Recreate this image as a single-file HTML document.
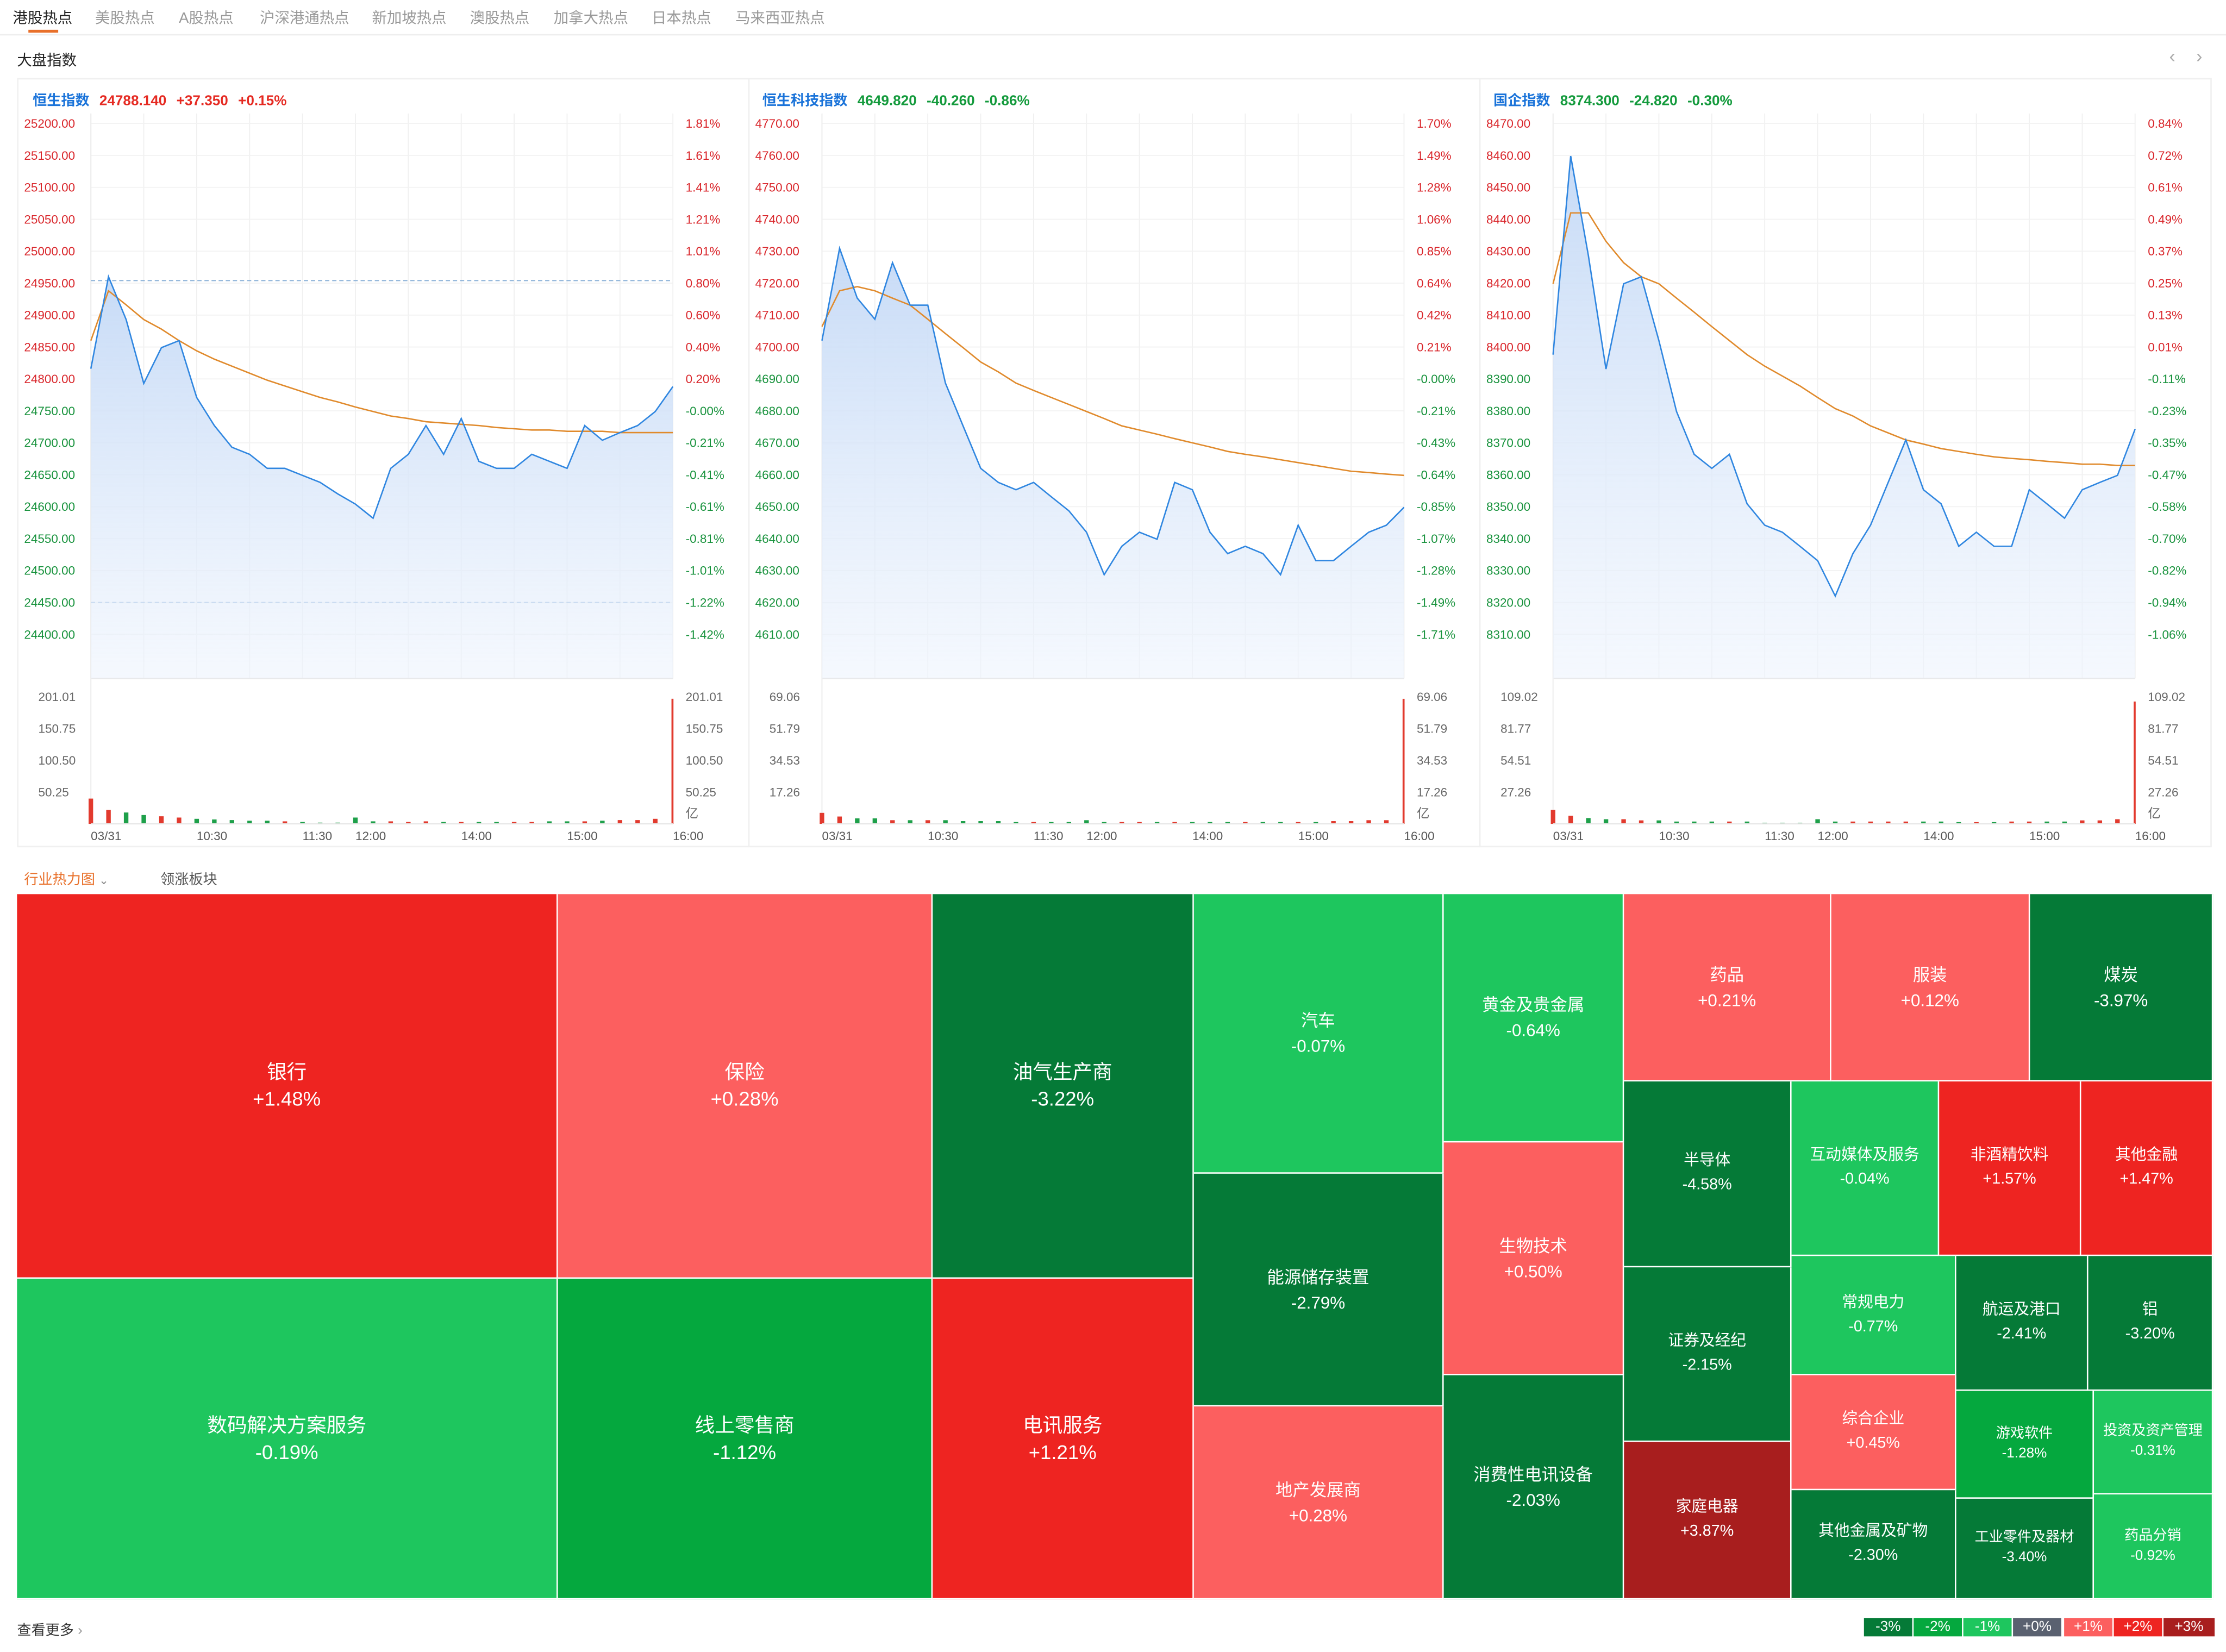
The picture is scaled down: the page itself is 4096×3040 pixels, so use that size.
<!DOCTYPE html>
<html><head><meta charset="utf-8">
<style>
html,body{margin:0;padding:0;width:4096px;height:3040px;overflow:hidden;background:#fff;}
#root{position:absolute;left:0;top:0;width:1568px;height:1164px;transform:scale(2.6122,2.6117);transform-origin:0 0;font-family:"Liberation Sans","Noto Sans CJK SC",sans-serif;color:#333;}
.abs{position:absolute;white-space:nowrap;}
.tab{position:absolute;top:5px;font-size:10.5px;color:#999;}
.panel{position:absolute;top:55px;height:542px;border:1px solid #f0f0f0;box-sizing:border-box;}
.hdr{position:absolute;top:62px;font-size:10px;font-weight:bold;}
.hdr span{margin-right:7px;}
.cell{position:absolute;box-sizing:border-box;border-right:1px solid #fff;border-bottom:1px solid #fff;color:#fff;display:flex;flex-direction:column;align-items:center;justify-content:center;text-align:center;font-size:12px;line-height:18px;}
.cell.big{font-size:14px;line-height:19px;}
.cell.sm{font-size:11px;line-height:17px;}
.cell.xs{font-size:10px;line-height:14px;}
.leg{position:absolute;top:1140px;height:13px;width:34px;color:#fff;font-size:10px;line-height:13px;text-align:center;}
</style></head>
<body>
<div id="root">
  <div class="tab" style="left:9px;color:#222;">港股热点</div>
  <div class="tab" style="left:67px">美股热点</div>
  <div class="tab" style="left:126px">A股热点</div>
  <div class="tab" style="left:183px">沪深港通热点</div>
  <div class="tab" style="left:262px">新加坡热点</div>
  <div class="tab" style="left:331px">澳股热点</div>
  <div class="tab" style="left:390px">加拿大热点</div>
  <div class="tab" style="left:459px">日本热点</div>
  <div class="tab" style="left:518px">马来西亚热点</div>
  <div class="abs" style="left:20px;top:21px;width:21px;height:2px;background:#e8702a"></div>
  <div class="abs" style="left:0;top:24px;width:1568px;height:1px;background:#eee"></div>
  <div class="abs" style="left:12px;top:35px;font-size:10.5px;color:#222">大盘指数</div>
  <div class="abs" style="left:1528px;top:32px;font-size:13px;color:#aaa">‹</div>
  <div class="abs" style="left:1547px;top:32px;font-size:13px;color:#aaa">›</div>

  <div class="panel" style="left:12px;width:516px"></div>
  <div class="panel" style="left:527px;width:516px"></div>
  <div class="panel" style="left:1042px;width:516px"></div>

  <div class="hdr" style="left:23px"><span style="color:#1a73d9">恒生指数</span><span style="color:#e52a22">24788.140</span><span style="color:#e52a22">+37.350</span><span style="color:#e52a22">+0.15%</span></div>
  <div class="hdr" style="left:537px"><span style="color:#1a73d9">恒生科技指数</span><span style="color:#139a3c">4649.820</span><span style="color:#139a3c">-40.260</span><span style="color:#139a3c">-0.86%</span></div>
  <div class="hdr" style="left:1052px"><span style="color:#1a73d9">国企指数</span><span style="color:#139a3c">8374.300</span><span style="color:#139a3c">-24.820</span><span style="color:#139a3c">-0.30%</span></div>

  <svg id="charts" class="abs" style="left:0;top:0" width="1568" height="610"></svg>

  <div class="abs" style="left:17px;top:611px;font-size:10px;color:#e8702a">行业热力图 <span style="font-size:8px;color:#888">⌄</span></div>
  <div class="abs" style="left:113px;top:611px;font-size:10px;color:#555">领涨板块</div>

  <div id="treemap" class="abs" style="left:12px;top:630px;width:1547px;height:497px">
    <div class="cell big" data-val="1.48" style="left:0;top:0;width:381px;height:271px"><div>银行</div><div>+1.48%</div></div>
    <div class="cell big" data-val="-0.19" style="left:0;top:271px;width:381px;height:226px"><div>数码解决方案服务</div><div>-0.19%</div></div>
    <div class="cell big" data-val="0.28" style="left:381px;top:0;width:264px;height:271px"><div>保险</div><div>+0.28%</div></div>
    <div class="cell big" data-val="-1.12" style="left:381px;top:271px;width:264px;height:226px"><div>线上零售商</div><div>-1.12%</div></div>
    <div class="cell big" data-val="-3.22" style="left:645px;top:0;width:184px;height:271px"><div>油气生产商</div><div>-3.22%</div></div>
    <div class="cell big" data-val="1.21" style="left:645px;top:271px;width:184px;height:226px"><div>电讯服务</div><div>+1.21%</div></div>
    <div class="cell" data-val="-0.07" style="left:829px;top:0;width:176px;height:197px"><div>汽车</div><div>-0.07%</div></div>
    <div class="cell" data-val="-2.79" style="left:829px;top:197px;width:176px;height:164px"><div>能源储存装置</div><div>-2.79%</div></div>
    <div class="cell" data-val="0.28" style="left:829px;top:361px;width:176px;height:136px"><div>地产发展商</div><div>+0.28%</div></div>
    <div class="cell" data-val="-0.64" style="left:1005px;top:0;width:127px;height:175px"><div>黄金及贵金属</div><div>-0.64%</div></div>
    <div class="cell" data-val="0.50" style="left:1005px;top:175px;width:127px;height:164px"><div>生物技术</div><div>+0.50%</div></div>
    <div class="cell" data-val="-2.03" style="left:1005px;top:339px;width:127px;height:158px"><div>消费性电讯设备</div><div>-2.03%</div></div>
    <div class="cell" data-val="0.21" style="left:1132px;top:0;width:146px;height:132px"><div>药品</div><div>+0.21%</div></div>
    <div class="cell" data-val="0.12" style="left:1278px;top:0;width:140px;height:132px"><div>服装</div><div>+0.12%</div></div>
    <div class="cell" data-val="-3.97" style="left:1418px;top:0;width:129px;height:132px"><div>煤炭</div><div>-3.97%</div></div>
    <div class="cell sm" data-val="-4.58" style="left:1132px;top:132px;width:118px;height:131px"><div>半导体</div><div>-4.58%</div></div>
    <div class="cell sm" data-val="-0.04" style="left:1250px;top:132px;width:104px;height:123px"><div>互动媒体及服务</div><div>-0.04%</div></div>
    <div class="cell sm" data-val="1.57" style="left:1354px;top:132px;width:100px;height:123px"><div>非酒精饮料</div><div>+1.57%</div></div>
    <div class="cell sm" data-val="1.47" style="left:1454px;top:132px;width:93px;height:123px"><div>其他金融</div><div>+1.47%</div></div>
    <div class="cell sm" data-val="-2.15" style="left:1132px;top:263px;width:118px;height:123px"><div>证券及经纪</div><div>-2.15%</div></div>
    <div class="cell sm" data-val="3.87" style="left:1132px;top:386px;width:118px;height:111px"><div>家庭电器</div><div>+3.87%</div></div>
    <div class="cell sm" data-val="-0.77" style="left:1250px;top:255px;width:116px;height:84px"><div>常规电力</div><div>-0.77%</div></div>
    <div class="cell sm" data-val="-2.41" style="left:1366px;top:255px;width:93px;height:95px"><div>航运及港口</div><div>-2.41%</div></div>
    <div class="cell sm" data-val="-3.20" style="left:1459px;top:255px;width:88px;height:95px"><div>铝</div><div>-3.20%</div></div>
    <div class="cell sm" data-val="0.45" style="left:1250px;top:339px;width:116px;height:81px"><div>综合企业</div><div>+0.45%</div></div>
    <div class="cell sm" data-val="-2.30" style="left:1250px;top:420px;width:116px;height:77px"><div>其他金属及矿物</div><div>-2.30%</div></div>
    <div class="cell xs" data-val="-1.28" style="left:1366px;top:350px;width:97px;height:76px"><div>游戏软件</div><div>-1.28%</div></div>
    <div class="cell xs" data-val="-0.31" style="left:1463px;top:350px;width:84px;height:73px"><div>投资及资产管理</div><div>-0.31%</div></div>
    <div class="cell xs" data-val="-3.40" style="left:1366px;top:426px;width:97px;height:71px"><div>工业零件及器材</div><div>-3.40%</div></div>
    <div class="cell xs" data-val="-0.92" style="left:1463px;top:423px;width:84px;height:74px"><div>药品分销</div><div>-0.92%</div></div>
  </div>

  <div class="abs" style="left:12px;top:1140px;font-size:10px;color:#333">查看更多 <span style="color:#999">›</span></div>
  <div class="leg" style="left:1313px;background:#057a37">-3%</div>
  <div class="leg" style="left:1348px;background:#05a83e">-2%</div>
  <div class="leg" style="left:1383px;background:#1ec65e">-1%</div>
  <div class="leg" style="left:1418px;background:#5a6170">+0%</div>
  <div class="leg" style="left:1454px;background:#fc5f5f">+1%</div>
  <div class="leg" style="left:1489px;background:#ee2421">+2%</div>
  <div class="leg" style="left:1524px;width:36px;background:#a81e1e">+3%</div>
</div>
<script>
// minutes since 09:30 in trading time (10-minute samples)
const sampleMinutes = [0,10,20,30,40,50,60,70,80,90,100,110,120,130,140,150,160,170,180,190,200,210,220,230,240,250,260,270,280,290,300,310,320,330];
const timeTickLabels = ["03/31","10:30","11:30","12:00","14:00","15:00","16:00"];
const timeTickMinutes = [0,60,120,150,210,270,330];

const hsiPrice = [24816,24960,24893,24793,24849,24860,24771,24727,24693,24682,24660,24660,24649,24638,24620,24604,24582,24660,24682,24727,24682,24738,24671,24660,24660,24682,24671,24660,24727,24704,24716,24727,24749,24788];
const hsiAvg = [24860,24938,24916,24893,24878,24860,24844,24831,24820,24809,24798,24789,24780,24771,24764,24756,24749,24742,24738,24733,24731,24729,24727,24724,24722,24720,24720,24718,24718,24718,24716,24716,24716,24716];
const hsiVol = [40,22,18,14,12,10,8,7,6,5,5,4,3,2,2,10,4,4,3,4,3,3,3,3,3,3,4,4,4,5,6,6,8,198];
const hsiPriceTicks = ["25200.00","25150.00","25100.00","25050.00","25000.00","24950.00","24900.00","24850.00","24800.00","24750.00","24700.00","24650.00","24600.00","24550.00","24500.00","24450.00","24400.00"];
const hsiPctTicks = ["1.81%","1.61%","1.41%","1.21%","1.01%","0.80%","0.60%","0.40%","0.20%","-0.00%","-0.21%","-0.41%","-0.61%","-0.81%","-1.01%","-1.22%","-1.42%"];
const hsiVolTicks = ["201.01","150.75","100.50","50.25"];
const hsiMarkLines = [24954, 24450];

const techPrice = [4702.0,4730.9,4715.3,4708.7,4726.4,4713.1,4713.1,4688.7,4675.3,4662.0,4657.6,4655.3,4657.6,4653.1,4648.7,4642.0,4628.7,4637.6,4642.0,4639.8,4657.6,4655.3,4642.0,4635.3,4637.6,4635.3,4628.7,4644.2,4633.1,4633.1,4637.6,4642.0,4644.2,4649.8];
const techAvg = [4706.4,4717.6,4718.9,4717.6,4715.3,4713.1,4708.7,4704.2,4699.8,4695.3,4692.2,4688.7,4686.4,4684.2,4682.0,4679.8,4677.6,4675.3,4674.0,4672.7,4671.3,4670.0,4668.7,4667.3,4666.4,4665.6,4664.7,4663.8,4662.9,4662.0,4661.1,4660.7,4660.2,4659.8];
const techVol = [6,4,3,3,2,2,2,2,1.5,1.5,1.5,1,1,1,1,2,1,1,1,1,1,1,1,1,1,1,1,1,1,1.5,1.5,2,2,68];
const techPriceTicks = ["4770.00","4760.00","4750.00","4740.00","4730.00","4720.00","4710.00","4700.00","4690.00","4680.00","4670.00","4660.00","4650.00","4640.00","4630.00","4620.00","4610.00"];
const techPctTicks = ["1.70%","1.49%","1.28%","1.06%","0.85%","0.64%","0.42%","0.21%","-0.00%","-0.21%","-0.43%","-0.64%","-0.85%","-1.07%","-1.28%","-1.49%","-1.71%"];
const techVolTicks = ["69.06","51.79","34.53","17.26"];

const hsceiPrice = [8397.6,8459.8,8428.7,8393.1,8419.8,8422.0,8402.0,8379.8,8366.4,8362.0,8366.4,8350.9,8344.2,8342.0,8337.6,8333.1,8322.0,8335.3,8344.2,8357.6,8370.9,8355.3,8350.9,8337.6,8342.0,8337.6,8337.6,8355.3,8350.9,8346.4,8355.3,8357.6,8359.8,8374.3];
const hsceiAvg = [8419.8,8442.0,8442.0,8433.1,8426.4,8422.0,8419.8,8415.3,8410.9,8406.4,8402.0,8397.6,8394.0,8390.9,8387.8,8384.2,8380.7,8378.4,8375.3,8373.1,8370.9,8369.6,8368.2,8367.3,8366.4,8365.6,8365.1,8364.7,8364.2,8363.8,8363.3,8363.3,8362.9,8362.9];
const hsceiVol = [12,7,5,4,4,3,3,2,2,2,2,2,1,1,1,4,2,2,2,2,2,2,2,1.5,1.5,1.5,2,2,2,2,3,3,4,105];
const hsceiPriceTicks = ["8470.00","8460.00","8450.00","8440.00","8430.00","8420.00","8410.00","8400.00","8390.00","8380.00","8370.00","8360.00","8350.00","8340.00","8330.00","8320.00","8310.00"];
const hsceiPctTicks = ["0.84%","0.72%","0.61%","0.49%","0.37%","0.25%","0.13%","0.01%","-0.11%","-0.23%","-0.35%","-0.47%","-0.58%","-0.70%","-0.82%","-0.94%","-1.06%"];
const hsceiVolTicks = ["109.02","81.77","54.51","27.26"];

const NS = "http://www.w3.org/2000/svg";
const svg = document.getElementById('charts');
function mk(tag, attrs, parent){
  const e = document.createElementNS(NS, tag);
  for (const k in attrs) e.setAttribute(k, attrs[k]);
  (parent||svg).appendChild(e);
  return e;
}
const defs = mk('defs', {});
const grad = mk('linearGradient', {id:'areaGrad', x1:0, y1:0, x2:0, y2:1}, defs);
mk('stop', {offset:'0', 'stop-color':'#c4d9f6', 'stop-opacity':'0.95'}, grad);
mk('stop', {offset:'1', 'stop-color':'#eef4fd', 'stop-opacity':'0.6'}, grad);

function drawChart(cfg){
  const x0 = cfg.x0, x1 = x0 + 410, yTop = 87, yBot = 447, areaBot = 478, volBase = 580.5, volTop = 491;
  const pMax = parseFloat(cfg.priceTicks[0]), pMin = parseFloat(cfg.priceTicks[cfg.priceTicks.length-1]);
  const xs = m => x0 + m * (x1 - x0) / 330;
  const ys = p => yTop + (pMax - p) / (pMax - pMin) * (yBot - yTop);
  const vMax = parseFloat(cfg.volTicks[0]);
  const vy = v => volBase - v / vMax * (volBase - volTop);
  const g = mk('g', {});
  
  
  // grid
  for (let i = 0; i <= 11; i++) {
    const x = x0 + i * 410 / 11;
    const l = mk('line', {x1:x, x2:x, y1:80, y2:areaBot, stroke:'#f0f0f0', 'stroke-width':0.7}, g);
    
    
  }
  cfg.priceTicks.forEach((t, i) => {
    const y = ys(parseFloat(t));
    const l = mk('line', {x1:x0, x2:x1, y1:y, y2:y, stroke:'#f2f2f2', 'stroke-width':0.7}, g);
    
    
    const up = parseFloat(t) >= cfg.prevClose;
    const col = up ? '#d9262b' : '#17923c';
    const lt = mk('text', {x:x0 - 47, y:y + 3, 'font-size':8.6, fill:col}, g);
    lt.textContent = t;
    
    
    const rt = mk('text', {x:x1 + 9, y:y + 3, 'font-size':8.6, fill:col}, g);
    rt.textContent = cfg.pctTicks[i];
    
    
  });
  const sep = mk('line', {x1:x0, x2:x1, y1:areaBot, y2:areaBot, stroke:'#e6e6e6', 'stroke-width':1}, g);
  
  
  const lax = mk('line', {x1:x0, x2:x0, y1:80, y2:volBase, stroke:'#eee', 'stroke-width':0.8}, g);
  
  
  if (cfg.markLines) cfg.markLines.forEach(p => {
    const y = ys(p);
    const ml = mk('line', {x1:x0, x2:x1, y1:y, y2:y, stroke:'#8fb4d9', 'stroke-width':0.8, 'stroke-dasharray':'3,2'}, g);
    
    
  });
  // area + line
  let d = '';
  cfg.price.forEach((p, i) => { d += (i ? 'L' : 'M') + xs(sampleMinutes[i]).toFixed(2) + ',' + ys(p).toFixed(2); });
  const area = mk('path', {d: d + 'L' + xs(sampleMinutes[cfg.price.length-1]) + ',' + areaBot + 'L' + x0 + ',' + areaBot + 'Z', fill:'url(#areaGrad)'}, g);
  
  
  let da = '';
  cfg.avg.forEach((p, i) => { da += (i ? 'L' : 'M') + xs(sampleMinutes[i]).toFixed(2) + ',' + ys(p).toFixed(2); });
  const avgL = mk('path', {d:da, fill:'none', stroke:'#e08a2c', 'stroke-width':1}, g);
  
  
  const line = mk('path', {d:d, fill:'none', stroke:'#2f86e0', 'stroke-width':1}, g);
  
  
  // volume
  cfg.volTicks.forEach((t, i) => {
    const y = vy(parseFloat(t));
    const a = mk('text', {x:x0 - 37, y:y + 3, 'font-size':8.6, fill:'#666'}, g);
    a.textContent = t;
    
    
    const b = mk('text', {x:x1 + 9, y:y + 3, 'font-size':8.6, fill:'#666'}, g);
    b.textContent = t;
    
    
  });
  const unit = mk('text', {x:x1 + 9, y:576, 'font-size':9, fill:'#666'}, g);
  unit.textContent = '亿';
  
  
  cfg.vol.forEach((v, i) => {
    const up = i === 0 ? true : cfg.price[i] >= cfg.price[i-1];
    const x = xs(sampleMinutes[i]);
    const y = vy(v);
    const bar = mk('rect', {x: x - (i === cfg.vol.length-1 ? 1 : 1.6), y: y, width: i === cfg.vol.length-1 ? 1.4 : 3.2, height: volBase - y, fill: up ? '#e23a2e' : '#1ea04a'}, g);
    
    
  });
  const vb = mk('line', {x1:x0, x2:x1, y1:volBase, y2:volBase, stroke:'#e6e6e6', 'stroke-width':0.8}, g);
  
  
  timeTickLabels.forEach((t, i) => {
    const tx = mk('text', {x: xs(timeTickMinutes[i]), y:592, 'font-size':8.6, fill:'#555'}, g);
    tx.textContent = t;
    
    
  });
}
drawChart({name:'hsi', x0:64, price:hsiPrice, avg:hsiAvg, vol:hsiVol, priceTicks:hsiPriceTicks, pctTicks:hsiPctTicks, volTicks:hsiVolTicks, prevClose:24750.79, markLines:hsiMarkLines});
drawChart({name:'hstech', x0:579, price:techPrice, avg:techAvg, vol:techVol, priceTicks:techPriceTicks, pctTicks:techPctTicks, volTicks:techVolTicks, prevClose:4690.08});
drawChart({name:'hscei', x0:1094, price:hsceiPrice, avg:hsceiAvg, vol:hsceiVol, priceTicks:hsceiPriceTicks, pctTicks:hsceiPctTicks, volTicks:hsceiVolTicks, prevClose:8399.12});

// treemap colours from change values
function heatColor(v){
  if (v >= 3) return '#a81e1e';
  if (v >= 1) return '#ee2421';
  if (v > 0) return '#fc5f5f';
  if (v > -1) return '#1ec65e';
  if (v > -2) return '#05a83e';
  return '#057a37';
}
document.querySelectorAll('#treemap .cell').forEach(c => {
  c.style.background = heatColor(parseFloat(c.getAttribute('data-val')));
});
</script>
</body></html>
